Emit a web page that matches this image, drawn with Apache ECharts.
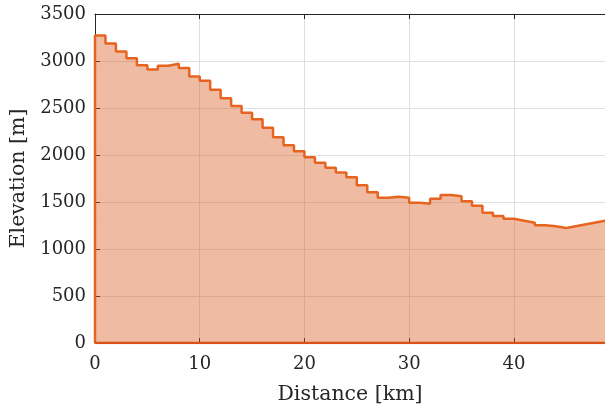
<!DOCTYPE html>
<html>
<head>
<meta charset="utf-8">
<script src="https://cdn.jsdelivr.net/npm/echarts@6/dist/echarts.min.js"></script>
<style>html,body{margin:0;padding:0;background:#fff;}#c{width:605px;height:412px;}</style>
</head>
<body>
<div id="c"></div>
<script>
// Elevation for each 1 km step, starting at km 0
const stepStartKm = [0,1,2,3,4,5,6,7,8,9,10,11,12,13,14,15,16,17,18,19,20,21,22,23,24,25,26,27,28,29,30,31,32,33,34,35,36,37,38,39,40,41,42,43,44];
const stepElev = [3270,3185,3100,3030,2955,2910,2950,2970,2925,2835,2790,2695,2605,2520,2450,2380,2290,2190,2105,2040,1975,1918,1865,1815,1763,1678,1603,1546,1557,1545,1493,1482,1535,1574,1560,1507,1461,1386,1352,1322,1301,1280,1252,1241,1223];
// final straight segment
const tailKm = [45, 48.7];
const tailElev = [1220, 1300];
const xTicks = [0, 10, 20, 30, 40];
const yTicks = [0, 500, 1000, 1500, 2000, 2500, 3000, 3500];

const pts = [[stepStartKm[0], 0]];
for (let i = 0; i < stepStartKm.length; i++) {
  pts.push([stepStartKm[i], stepElev[i]]);
  pts.push([stepStartKm[i] + 1, stepElev[i]]);
}
for (let i = 0; i < tailKm.length; i++) pts.push([tailKm[i], tailElev[i]]);
const xMax = tailKm[tailKm.length - 1];

const font = 'DejaVu Serif';
const txt = '#262626';
const chart = echarts.init(document.getElementById('c'), null, {renderer: 'canvas'});
const axisCommon = {
  axisLine: {show: true, lineStyle: {color: txt, width: 1}},
  axisTick: {show: true, inside: true, length: 5, lineStyle: {color: txt}},
  splitLine: {show: true, lineStyle: {color: '#DFDFDF', width: 1}}
};
chart.setOption({
  animation: false,
  grid: {left: 95, right: 0, top: 14, bottom: 69, containLabel: false, outerBoundsMode: 'none'},
  xAxis: [{
    type: 'value', min: 0, max: xMax, interval: 10, position: 'bottom',
    ...axisCommon,
    axisLabel: {color: txt, fontFamily: font, fontSize: 18, margin: 12, showMaxLabel: false,
      formatter: v => xTicks.includes(v) ? String(v) : ''},
    name: 'Distance [km]', nameLocation: 'middle', nameGap: 41,
    nameTextStyle: {color: txt, fontFamily: font, fontSize: 20.5}
  }, {
    type: 'value', min: 0, max: xMax, interval: 10, position: 'top',
    axisLine: {show: true, lineStyle: {color: txt, width: 1}},
    axisTick: {show: true, inside: true, length: 5, lineStyle: {color: txt}},
    axisLabel: {show: false}, splitLine: {show: false}
  }],
  yAxis: {
    type: 'value', min: 0, max: 3500, interval: 500,
    ...axisCommon,
    axisLabel: {color: txt, fontFamily: font, fontSize: 18, margin: 9,
      formatter: v => yTicks.includes(v) ? String(v) : ''},
    name: 'Elevation [m]', nameLocation: 'middle', nameGap: 62, nameRotate: 90,
    nameTextStyle: {color: txt, fontFamily: font, fontSize: 20.5}
  },
  series: [{
    type: 'line', data: pts, showSymbol: false, symbol: 'none',
    lineStyle: {color: '#E6641F', width: 2.5},
    areaStyle: {color: 'rgba(214,84,26,0.4)', opacity: 1, origin: 0},
    clip: true, z: 3
  }, {
    type: 'line', data: [[0, 0], [xMax, 0]], showSymbol: false, symbol: 'none',
    lineStyle: {color: '#D95319', width: 2.5}, z: 4
  }]
});
</script>
</body>
</html>
